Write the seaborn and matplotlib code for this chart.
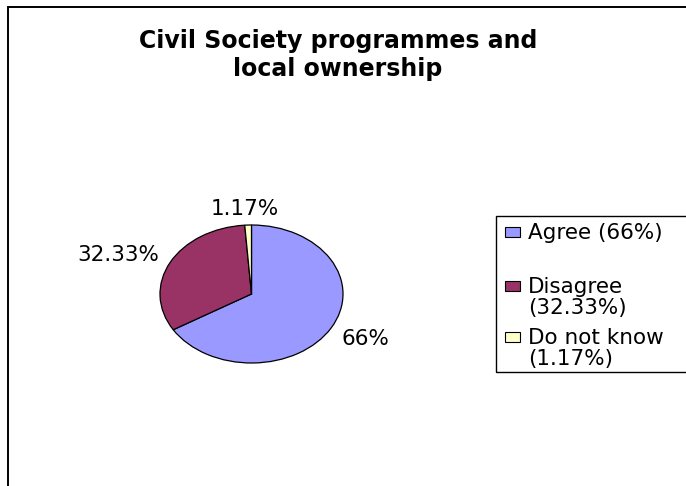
import matplotlib
matplotlib.use("Agg")
import matplotlib.pyplot as plt
from matplotlib.patches import Rectangle
import seaborn as sns

# Survey responses
categories = ["Agree", "Disagree", "Do not know"]
shares = [66, 32.33, 1.17]
colors = ["#9999FF", "#993366", "#FFFFCC"]
title_lines = ["Civil Society programmes and", "local ownership"]

sns.set_theme(style="white")
plt.rcParams["font.family"] = ["DejaVu Sans"]

W, H = 686, 486
fig = plt.figure(figsize=(W / 100, H / 100), dpi=100)


def fx(px):
    return px / W


def fy(py):
    return 1 - py / H


# outer chart frame (runs past the right and bottom edges)
fig.patches.append(Rectangle((fx(8), fy(H + 20)), fx(W + 20 - 8), fy(7) - fy(H + 20),
                             transform=fig.transFigure, fill=False,
                             edgecolor="black", linewidth=1.4))

# title
fig.text(fx(338), fy(41), title_lines[0], ha="center", va="center",
         fontsize=17, fontweight="bold", color="black")
fig.text(fx(338), fy(69), title_lines[1], ha="center", va="center",
         fontsize=17, fontweight="bold", color="black")

# pie axes: the pie fills an elliptical box
cx, cy, rx, ry = 251.5, 294, 91.5, 69
ax = fig.add_axes([fx(cx - rx), fy(cy + ry), fx(2 * rx), (2 * ry) / H])
wedges, _ = ax.pie(shares, colors=colors, startangle=90, counterclock=False,
                   wedgeprops=dict(edgecolor="black", linewidth=0.9))
for w in wedges:
    w.set_clip_on(False)
ax.set_aspect("auto")
ax.set_xlim(-1, 1)
ax.set_ylim(-1, 1)
ax.axis("off")

# value labels around the pie
label_pos = [(1.24, -0.65), (-1.46, 0.57), (-0.07, 1.23)]
for v, (lx, ly) in zip(shares, label_pos):
    ax.text(lx, ly, f"{v:g}%", ha="center", va="center", fontsize=15.5,
            color="black", clip_on=False)

# legend box
box_left, box_top, box_bottom = 496, 216, 372
fig.patches.append(Rectangle((fx(box_left), fy(box_bottom)), fx(W + 20 - box_left),
                             fy(box_top) - fy(box_bottom), transform=fig.transFigure,
                             fill=False, edgecolor="black", linewidth=1.0))

legend_lines = [
    [f"{categories[0]} ({shares[0]:g}%)"],
    [categories[1], f"({shares[1]:g}%)"],
    [categories[2], f"({shares[2]:g}%)"],
]
first_line_centers = [232, 286, 337]
line_step = 21
for lines, c, col in zip(legend_lines, first_line_centers, colors):
    fig.patches.append(Rectangle((fx(505), fy(c + 5)), fx(15), 10 / H,
                                 transform=fig.transFigure, facecolor=col,
                                 edgecolor="black", linewidth=0.8))
    for i, t in enumerate(lines):
        fig.text(fx(528), fy(c + 7 + i * line_step), t, ha="left", va="baseline",
                 fontsize=15.5, color="black")

fig.savefig("out.png", dpi=100, facecolor="white")
